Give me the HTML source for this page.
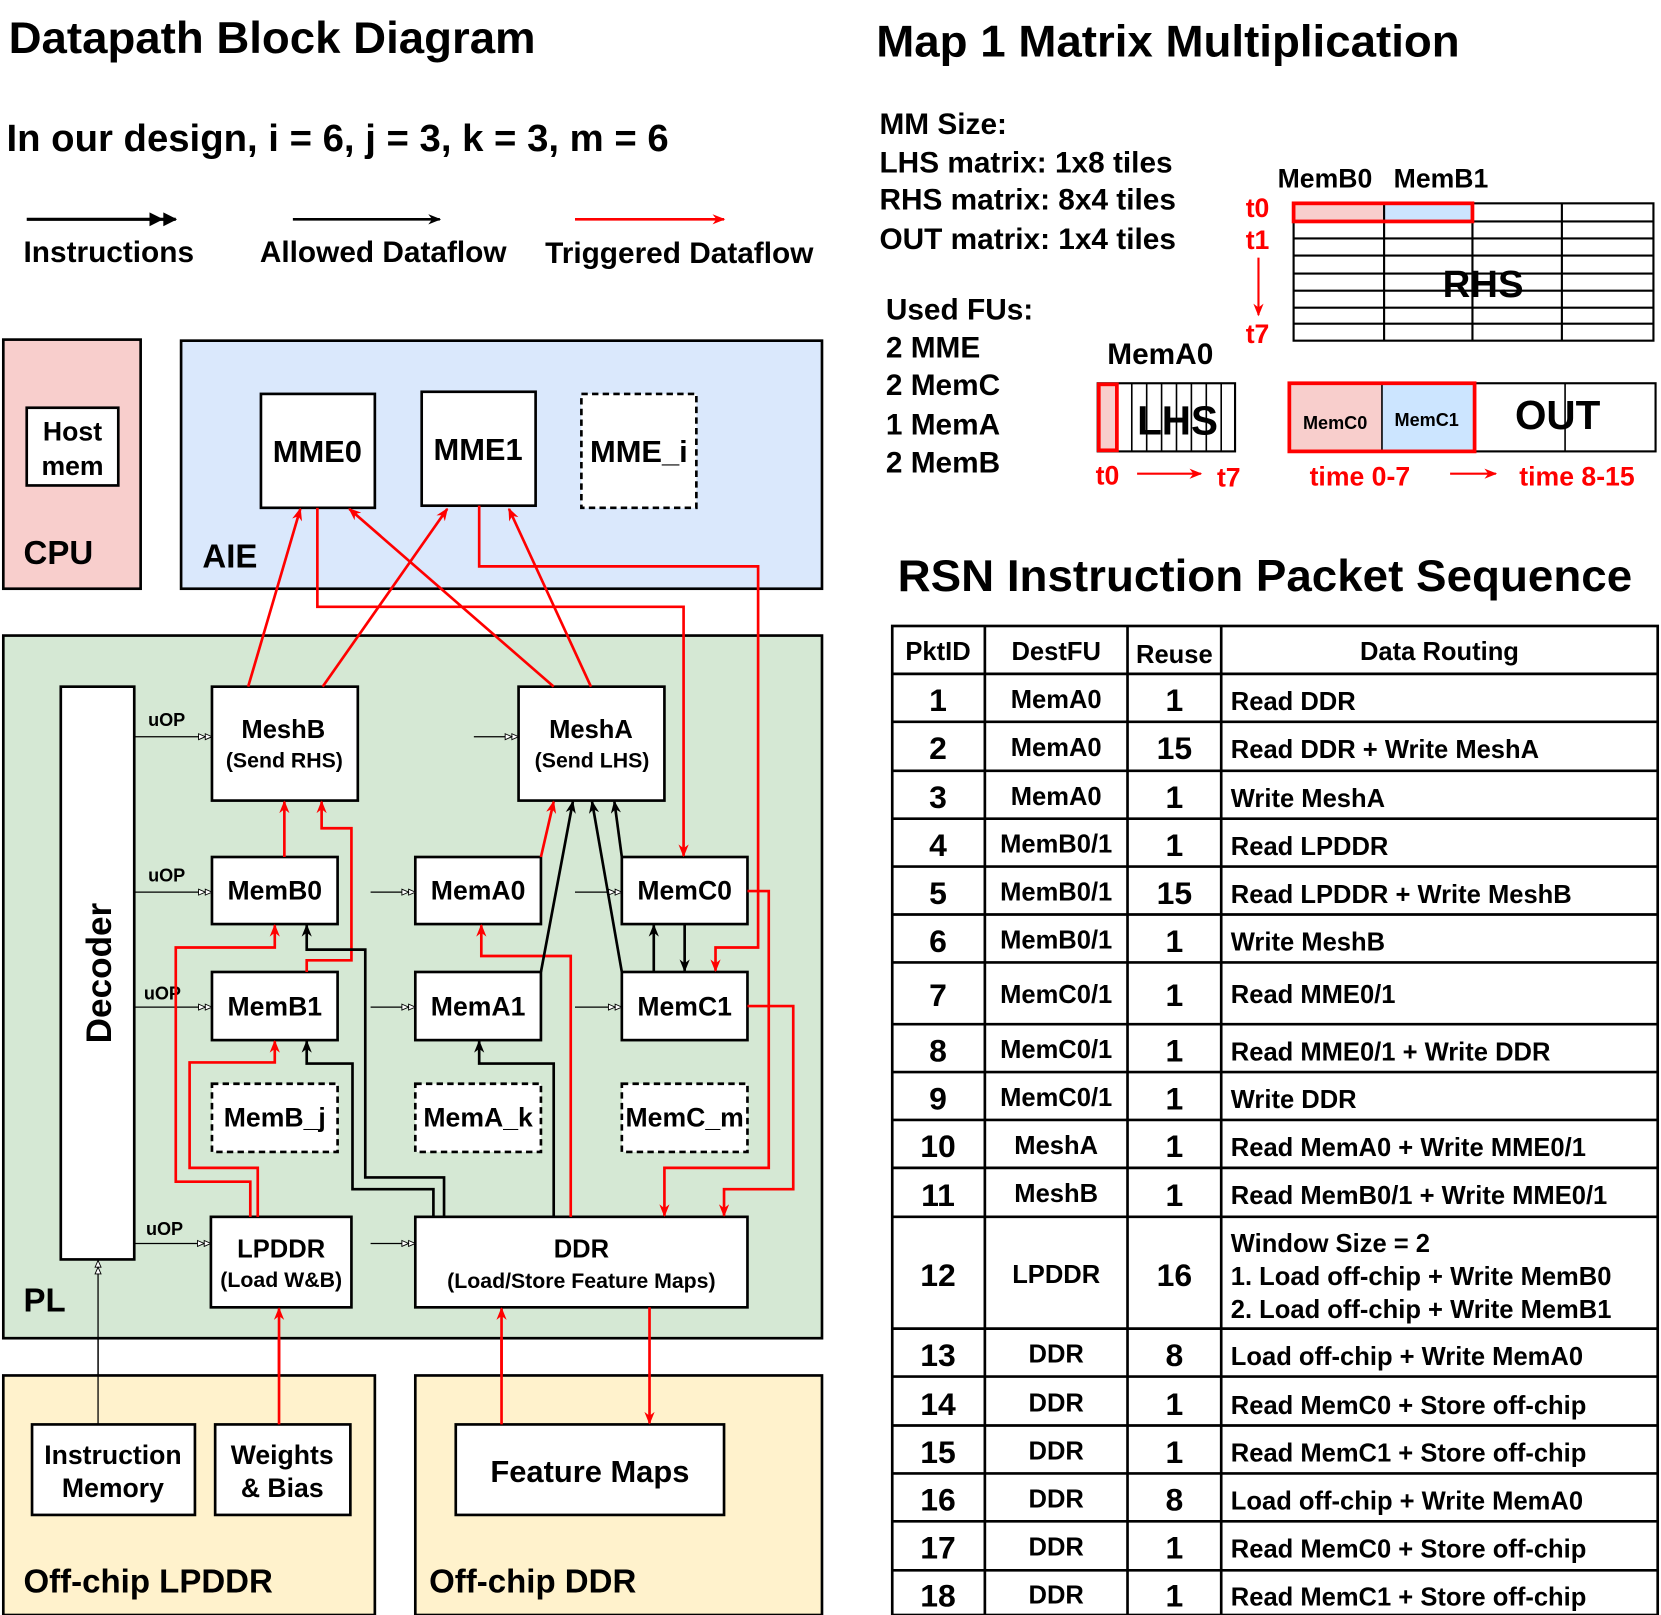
<!DOCTYPE html>
<html><head><meta charset="utf-8"><style>
html,body{margin:0;padding:0;background:#fff;}
svg{display:block;}
text{font-family:"Liberation Sans",Arial,sans-serif;font-weight:bold;fill:#000;}
.r{fill:#ff0000;}
</style></head><body>
<svg width="1661" height="1615" viewBox="0 0 1560 1517" xmlns="http://www.w3.org/2000/svg">
<defs>
<marker id="ar" viewBox="0 0 10 10" refX="9" refY="5" markerWidth="12" markerHeight="12" orient="auto" markerUnits="userSpaceOnUse"><path d="M0,1 L10,5 L0,9 L3,5 z" fill="#f00"/></marker>
<marker id="ab" viewBox="0 0 10 10" refX="9" refY="5" markerWidth="12" markerHeight="12" orient="auto" markerUnits="userSpaceOnUse"><path d="M0,1 L10,5 L0,9 L3,5 z" fill="#000"/></marker>
<marker id="ao" viewBox="0 0 20 10" refX="19" refY="5" markerWidth="14" markerHeight="7" orient="auto" markerUnits="userSpaceOnUse"><path d="M1,1 L10,5 L1,9 z M10,1 L19,5 L10,9 z" fill="#fff" stroke="#000" stroke-width="1.2"/></marker>
<marker id="ad" viewBox="0 0 20 10" refX="19" refY="5" markerWidth="26" markerHeight="14" orient="auto" markerUnits="userSpaceOnUse"><path d="M0,0 L10,5 L0,10 z M10,0 L20,5 L10,10 z" fill="#000"/></marker>
</defs>

<!-- Titles -->
<text x="8" y="50" font-size="42" textLength="495" lengthAdjust="spacingAndGlyphs">Datapath Block Diagram</text>
<text x="6" y="142" font-size="36">In our design, i = 6, j = 3, k = 3, m = 6</text>
<line x1="25" y1="206" x2="165" y2="206" stroke="#000" stroke-width="3" marker-end="url(#ad)"/>
<text x="22" y="246" font-size="28">Instructions</text>
<line x1="275" y1="206" x2="413" y2="206" stroke="#000" stroke-width="2.5" marker-end="url(#ab)"/>
<text x="244" y="246" font-size="28">Allowed Dataflow</text>
<line x1="540" y1="206" x2="680" y2="206" stroke="#f00" stroke-width="2.5" marker-end="url(#ar)"/>
<text x="512" y="247" font-size="28">Triggered Dataflow</text>

<!-- CPU / AIE -->
<rect x="3" y="319" width="129" height="234" fill="#f8cecc" stroke="#000" stroke-width="2.5"/>
<rect x="25" y="383" width="86" height="73" fill="#fff" stroke="#000" stroke-width="2.5"/>
<text x="68" y="414" font-size="25" text-anchor="middle">Host</text>
<text x="68" y="446" font-size="25" text-anchor="middle">mem</text>
<text x="22" y="530" font-size="31">CPU</text>
<rect x="170" y="320" width="602" height="233" fill="#dae8fc" stroke="#000" stroke-width="2.5"/>
<text x="190" y="533" font-size="31">AIE</text>
<rect x="245" y="370" width="107" height="107" fill="#fff" stroke="#000" stroke-width="2.5"/>
<text x="298" y="434" font-size="29" text-anchor="middle">MME0</text>
<rect x="396" y="368" width="107" height="107" fill="#fff" stroke="#000" stroke-width="2.5"/>
<text x="449" y="432" font-size="29" text-anchor="middle">MME1</text>
<rect x="546" y="370" width="108" height="107" fill="#fff" stroke="#000" stroke-width="2.5" stroke-dasharray="6,4"/>
<text x="600" y="434" font-size="29" text-anchor="middle">MME_i</text>

<!-- PL -->
<rect x="3" y="597" width="769" height="660" fill="#d5e8d4" stroke="#000" stroke-width="2.5"/>
<text x="22" y="1232" font-size="31">PL</text>
<rect x="57" y="645" width="69" height="538" fill="#fff" stroke="#000" stroke-width="2.5"/>
<text transform="translate(104,914) rotate(-90)" font-size="33" text-anchor="middle">Decoder</text>

<g stroke="#000" stroke-width="2.5" fill="#fff">
<rect x="199" y="645" width="137" height="107"/>
<rect x="487" y="645" width="137" height="107"/>
<rect x="199" y="805" width="118" height="63"/>
<rect x="390" y="805" width="118" height="63"/>
<rect x="584" y="805" width="118" height="63"/>
<rect x="199" y="913" width="118" height="64"/>
<rect x="390" y="913" width="118" height="64"/>
<rect x="584" y="913" width="118" height="64"/>
<rect x="198" y="1143" width="132" height="85"/>
<rect x="390" y="1143" width="312" height="85"/>
</g>
<g stroke="#000" stroke-width="2.5" fill="#fff" stroke-dasharray="6,4">
<rect x="199" y="1018" width="118" height="64"/>
<rect x="390" y="1018" width="118" height="64"/>
<rect x="584" y="1018" width="118" height="64"/>
</g>
<g font-size="24" text-anchor="middle">
<text x="266" y="693">MeshB</text>
<text x="267" y="721" font-size="20">(Send RHS)</text>
<text x="555" y="693">MeshA</text>
<text x="556" y="721" font-size="20">(Send LHS)</text>
<text x="258" y="845" font-size="25">MemB0</text>
<text x="449" y="845" font-size="25">MemA0</text>
<text x="643" y="845" font-size="25">MemC0</text>
<text x="258" y="954" font-size="25">MemB1</text>
<text x="449" y="954" font-size="25">MemA1</text>
<text x="643" y="954" font-size="25">MemC1</text>
<text x="258" y="1058" font-size="25">MemB_j</text>
<text x="449" y="1058" font-size="25">MemA_k</text>
<text x="643" y="1058" font-size="25">MemC_m</text>
<text x="264" y="1181">LPDDR</text>
<text x="264" y="1209" font-size="20">(Load W&amp;B)</text>
<text x="546" y="1181">DDR</text>
<text x="546" y="1210" font-size="20">(Load/Store Feature Maps)</text>
</g>

<!-- uOP arrows -->
<g stroke="#000" stroke-width="1.2" fill="none">
<line x1="126" y1="692" x2="199" y2="692" marker-end="url(#ao)"/>
<line x1="126" y1="838" x2="199" y2="838" marker-end="url(#ao)"/>
<line x1="126" y1="946" x2="199" y2="946" marker-end="url(#ao)"/>
<line x1="126" y1="1168" x2="198" y2="1168" marker-end="url(#ao)"/>
<line x1="445" y1="692" x2="487" y2="692" marker-end="url(#ao)"/>
<line x1="348" y1="838" x2="390" y2="838" marker-end="url(#ao)"/>
<line x1="540" y1="838" x2="584" y2="838" marker-end="url(#ao)"/>
<line x1="348" y1="946" x2="390" y2="946" marker-end="url(#ao)"/>
<line x1="540" y1="946" x2="584" y2="946" marker-end="url(#ao)"/>
<line x1="348" y1="1168" x2="390" y2="1168" marker-end="url(#ao)"/>
<line x1="92" y1="1338" x2="92" y2="1184" marker-end="url(#ao)"/>
</g>
<g font-size="17">
<text x="139" y="682">uOP</text>
<text x="139" y="828">uOP</text>
<text x="135" y="939">uOP</text>
<text x="137" y="1160">uOP</text>
</g>

<!-- Red arrows -->
<g stroke="#f00" stroke-width="2.5" fill="none" marker-end="url(#ar)">
<line x1="233" y1="645" x2="282" y2="478"/>
<line x1="303" y1="645" x2="420" y2="478"/>
<line x1="520" y1="645" x2="328" y2="478"/>
<line x1="555" y1="645" x2="478" y2="478"/>
<polyline points="298,477 298,570 642,570 642,804"/>
<polyline points="450,475 450,532 712,532 712,890 672,890 672,912"/>
<line x1="267" y1="805" x2="267" y2="753"/>
<polyline points="288,913 288,902 330,902 330,778 302,778 302,753"/>
<polyline points="235,1143 235,1110 165,1110 165,890 258,890 258,869"/>
<polyline points="242,1143 242,1097 178,1097 178,998 258,998 258,978"/>
<polyline points="536,1143 536,898 452,898 452,869"/>
<line x1="508" y1="805" x2="520" y2="753"/>
<polyline points="702,837 722,837 722,1097 624,1097 624,1142"/>
<polyline points="702,945 745,945 745,1117 680,1117 680,1142"/>
<line x1="262" y1="1338" x2="262" y2="1229"/>
<line x1="471" y1="1338" x2="471" y2="1229"/>
</g>
<!-- Black arrows -->
<g stroke="#000" stroke-width="2.5" fill="none" marker-end="url(#ab)">
<polyline points="417,1143 417,1106 343,1106 343,892 288,892 288,869"/>
<polyline points="407,1143 407,1117 331,1117 331,999 288,999 288,978"/>
<polyline points="520,1143 520,999 450,999 450,978"/>
<line x1="508" y1="913" x2="538" y2="753"/>
<line x1="584" y1="913" x2="556" y2="753"/>
<line x1="584" y1="805" x2="577" y2="753"/>
<line x1="614" y1="913" x2="614" y2="869"/>
<line x1="643" y1="868" x2="643" y2="912"/>
</g>

<!-- Off-chip -->
<rect x="3" y="1292" width="349" height="225" fill="#fff2cc" stroke="#000" stroke-width="2.5"/>
<rect x="30" y="1338" width="153" height="85" fill="#fff" stroke="#000" stroke-width="2.5"/>
<text x="106" y="1375" font-size="25" text-anchor="middle">Instruction</text>
<text x="106" y="1406" font-size="25" text-anchor="middle">Memory</text>
<rect x="202" y="1338" width="127" height="85" fill="#fff" stroke="#000" stroke-width="2.5"/>
<text x="265" y="1375" font-size="25" text-anchor="middle">Weights</text>
<text x="265" y="1406" font-size="25" text-anchor="middle">&amp; Bias</text>
<text x="22" y="1496" font-size="31">Off-chip LPDDR</text>
<rect x="390" y="1292" width="382" height="225" fill="#fff2cc" stroke="#000" stroke-width="2.5"/>
<rect x="428" y="1338" width="252" height="85" fill="#fff" stroke="#000" stroke-width="2.5"/>
<text x="554" y="1392" font-size="29" text-anchor="middle">Feature Maps</text>
<text x="403" y="1496" font-size="31">Off-chip DDR</text>
<g stroke="#f00" stroke-width="2.5" fill="none">
<line x1="262" y1="1338" x2="262" y2="1257"/>
<line x1="471" y1="1338" x2="471" y2="1257"/>
<line x1="610" y1="1228" x2="610" y2="1337" marker-end="url(#ar)"/>
</g>
<line x1="92" y1="1338" x2="92" y2="1257" stroke="#000" stroke-width="1.2"/>

<!-- Right: Map 1 -->
<text x="823" y="53" font-size="42" textLength="548" lengthAdjust="spacingAndGlyphs">Map 1 Matrix Multiplication</text>
<g font-size="28">
<text x="826" y="126">MM Size:</text>
<text x="826" y="162">LHS matrix: 1x8 tiles</text>
<text x="826" y="197">RHS matrix: 8x4 tiles</text>
<text x="826" y="234">OUT matrix: 1x4 tiles</text>
<text x="832" y="300">Used FUs:</text>
<text x="832" y="336">2 MME</text>
<text x="832" y="371">2 MemC</text>
<text x="832" y="408">1 MemA</text>
<text x="832" y="444">2 MemB</text>
</g>
<text x="1200" y="176" font-size="25">MemB0</text>
<text x="1309" y="176" font-size="25">MemB1</text>
<g font-size="25">
<text x="1170" y="204" class="r">t0</text>
<text x="1170" y="234" class="r">t1</text>
<text x="1170" y="322" class="r">t7</text>
</g>
<line x1="1182" y1="242" x2="1182" y2="296" stroke="#f00" stroke-width="2" marker-end="url(#ar)"/>
<rect x="1215" y="191" width="85" height="17" fill="#f8cecc"/>
<rect x="1300" y="191" width="83" height="17" fill="#cce5ff"/>
<g stroke="#000" stroke-width="2" fill="none">
<rect x="1215" y="191" width="338" height="129"/>
<line x1="1215" y1="208" x2="1553" y2="208"/>
<line x1="1215" y1="224" x2="1553" y2="224"/>
<line x1="1215" y1="240" x2="1553" y2="240"/>
<line x1="1215" y1="257" x2="1553" y2="257"/>
<line x1="1215" y1="273" x2="1553" y2="273"/>
<line x1="1215" y1="289" x2="1553" y2="289"/>
<line x1="1215" y1="304" x2="1553" y2="304"/>
<line x1="1300" y1="191" x2="1300" y2="320"/>
<line x1="1383" y1="191" x2="1383" y2="320"/>
<line x1="1467" y1="191" x2="1467" y2="320"/>
</g>
<rect x="1215" y="191" width="168" height="17" fill="none" stroke="#f00" stroke-width="3.5"/>
<text x="1393" y="279" font-size="36" text-anchor="middle">RHS</text>
<text x="1040" y="342" font-size="28">MemA0</text>
<rect x="1031" y="360" width="129" height="64" fill="#fff" stroke="#000" stroke-width="2"/>
<g stroke="#000" stroke-width="1.5">
<line x1="1063" y1="360" x2="1063" y2="424"/><line x1="1077" y1="360" x2="1077" y2="424"/>
<line x1="1091" y1="360" x2="1091" y2="424"/><line x1="1105" y1="360" x2="1105" y2="424"/>
<line x1="1119" y1="360" x2="1119" y2="424"/><line x1="1133" y1="360" x2="1133" y2="424"/>
<line x1="1147" y1="360" x2="1147" y2="424"/>
</g>
<rect x="1032" y="361" width="17" height="62" fill="#f8cecc" stroke="#f00" stroke-width="3.5"/>
<text x="1106" y="408" font-size="38" text-anchor="middle">LHS</text>
<text x="1029" y="455" font-size="25" class="r">t0</text>
<line x1="1068" y1="445" x2="1128" y2="445" stroke="#f00" stroke-width="2" marker-end="url(#ar)"/>
<text x="1143" y="457" font-size="25" class="r">t7</text>
<rect x="1211" y="360" width="344" height="64" fill="#fff" stroke="#000" stroke-width="2"/>
<rect x="1211" y="360" width="87" height="64" fill="#f8cecc"/>
<rect x="1298" y="360" width="87" height="64" fill="#cce5ff"/>
<line x1="1298" y1="360" x2="1298" y2="424" stroke="#000" stroke-width="1.5"/>
<line x1="1470" y1="360" x2="1470" y2="424" stroke="#000" stroke-width="1.5"/>
<rect x="1211" y="360" width="174" height="64" fill="none" stroke="#f00" stroke-width="3.5"/>
<text x="1254" y="403" font-size="17" text-anchor="middle">MemC0</text>
<text x="1340" y="400" font-size="17" text-anchor="middle">MemC1</text>
<text x="1463" y="403" font-size="38" text-anchor="middle">OUT</text>
<text x="1230" y="456" font-size="25" class="r">time 0-7</text>
<line x1="1362" y1="445" x2="1405" y2="445" stroke="#f00" stroke-width="2" marker-end="url(#ar)"/>
<text x="1427" y="456" font-size="25" class="r">time 8-15</text>

<!-- Table -->
<text x="843" y="555" font-size="42" textLength="690" lengthAdjust="spacingAndGlyphs">RSN Instruction Packet Sequence</text>
<g stroke="#000" stroke-width="2.5" fill="none">
<rect x="838" y="588" width="719" height="929"/>
<line x1="925" y1="588" x2="925" y2="1517"/>
<line x1="1059" y1="588" x2="1059" y2="1517"/>
<line x1="1147" y1="588" x2="1147" y2="1517"/>
<line x1="838" y1="633" x2="1557" y2="633"/>
<line x1="838" y1="678" x2="1557" y2="678"/>
<line x1="838" y1="724" x2="1557" y2="724"/>
<line x1="838" y1="769" x2="1557" y2="769"/>
<line x1="838" y1="814" x2="1557" y2="814"/>
<line x1="838" y1="859" x2="1557" y2="859"/>
<line x1="838" y1="904" x2="1557" y2="904"/>
<line x1="838" y1="962" x2="1557" y2="962"/>
<line x1="838" y1="1007" x2="1557" y2="1007"/>
<line x1="838" y1="1052" x2="1557" y2="1052"/>
<line x1="838" y1="1097" x2="1557" y2="1097"/>
<line x1="838" y1="1143" x2="1557" y2="1143"/>
<line x1="838" y1="1248" x2="1557" y2="1248"/>
<line x1="838" y1="1293" x2="1557" y2="1293"/>
<line x1="838" y1="1339" x2="1557" y2="1339"/>
<line x1="838" y1="1384" x2="1557" y2="1384"/>
<line x1="838" y1="1429" x2="1557" y2="1429"/>
<line x1="838" y1="1475" x2="1557" y2="1475"/>
</g>
<g font-size="24">
<text x="881" y="620" text-anchor="middle">PktID</text>
<text x="992" y="620" text-anchor="middle">DestFU</text>
<text x="1103" y="623" text-anchor="middle">Reuse</text>
<text x="1352" y="620" text-anchor="middle">Data Routing</text>
</g>
<g font-size="30" text-anchor="middle">
<text x="881" y="668">1</text><text x="881" y="713">2</text><text x="881" y="759">3</text>
<text x="881" y="804">4</text><text x="881" y="849">5</text><text x="881" y="894">6</text>
<text x="881" y="945">7</text><text x="881" y="997">8</text><text x="881" y="1042">9</text>
<text x="881" y="1087">10</text><text x="881" y="1133">11</text><text x="881" y="1208">12</text>
<text x="881" y="1283">13</text><text x="881" y="1329">14</text><text x="881" y="1374">15</text>
<text x="881" y="1419">16</text><text x="881" y="1464">17</text><text x="881" y="1509">18</text>
<text x="1103" y="668">1</text><text x="1103" y="713">15</text><text x="1103" y="759">1</text>
<text x="1103" y="804">1</text><text x="1103" y="849">15</text><text x="1103" y="894">1</text>
<text x="1103" y="945">1</text><text x="1103" y="997">1</text><text x="1103" y="1042">1</text>
<text x="1103" y="1087">1</text><text x="1103" y="1133">1</text><text x="1103" y="1208">16</text>
<text x="1103" y="1283">8</text><text x="1103" y="1329">1</text><text x="1103" y="1374">1</text>
<text x="1103" y="1419">8</text><text x="1103" y="1464">1</text><text x="1103" y="1509">1</text>
</g>
<g font-size="24" text-anchor="middle">
<text x="992" y="665">MemA0</text><text x="992" y="710">MemA0</text><text x="992" y="756">MemA0</text>
<text x="992" y="801">MemB0/1</text><text x="992" y="846">MemB0/1</text><text x="992" y="891">MemB0/1</text>
<text x="992" y="942">MemC0/1</text><text x="992" y="994">MemC0/1</text><text x="992" y="1039">MemC0/1</text>
<text x="992" y="1084">MeshA</text><text x="992" y="1129">MeshB</text><text x="992" y="1205">LPDDR</text>
<text x="992" y="1280">DDR</text><text x="992" y="1326">DDR</text><text x="992" y="1371">DDR</text>
<text x="992" y="1416">DDR</text><text x="992" y="1461">DDR</text><text x="992" y="1506">DDR</text>
</g>
<g font-size="24">
<text x="1156" y="667">Read DDR</text>
<text x="1156" y="712">Read DDR + Write MeshA</text>
<text x="1156" y="758">Write MeshA</text>
<text x="1156" y="803">Read LPDDR</text>
<text x="1156" y="848">Read LPDDR + Write MeshB</text>
<text x="1156" y="893">Write MeshB</text>
<text x="1156" y="942">Read MME0/1</text>
<text x="1156" y="996">Read MME0/1 + Write DDR</text>
<text x="1156" y="1041">Write DDR</text>
<text x="1156" y="1086">Read MemA0 + Write MME0/1</text>
<text x="1156" y="1131">Read MemB0/1 + Write MME0/1</text>
<text x="1156" y="1176">Window Size = 2</text>
<text x="1156" y="1207">1. Load off-chip + Write MemB0</text>
<text x="1156" y="1238">2. Load off-chip + Write MemB1</text>
<text x="1156" y="1282">Load off-chip + Write MemA0</text>
<text x="1156" y="1328">Read MemC0 + Store off-chip</text>
<text x="1156" y="1373">Read MemC1 + Store off-chip</text>
<text x="1156" y="1418">Load off-chip + Write MemA0</text>
<text x="1156" y="1463">Read MemC0 + Store off-chip</text>
<text x="1156" y="1508">Read MemC1 + Store off-chip</text>
</g>
</svg>
</body></html>
